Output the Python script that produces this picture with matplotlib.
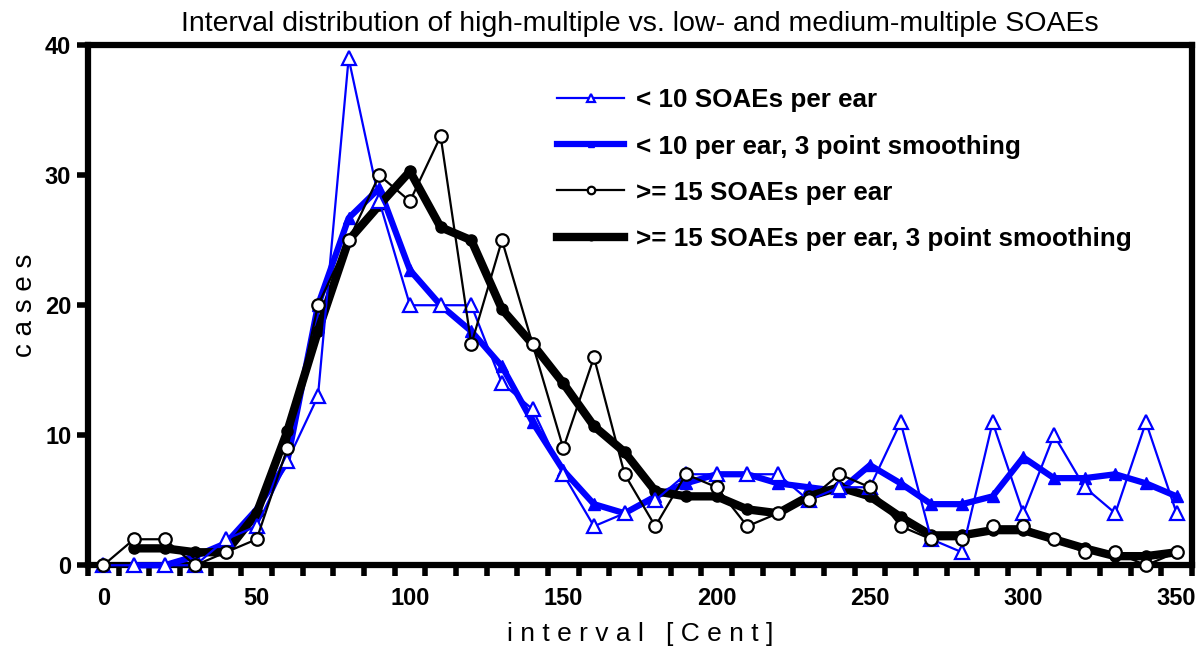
import numpy as np
import matplotlib.pyplot as plt

plt.rcParams['font.family'] = ['Liberation Sans', 'DejaVu Sans']

# interval in Cent
x = np.arange(0, 360, 10)
x_smooth = x[1:]

# < 10 SOAEs per ear
low = [0, 0, 0, 0, 2, 3, 8, 13, 39, 28, 20, 20, 20, 14, 12, 7, 3, 4,
       5, 7, 7, 7, 7, 5, 6, 6, 11, 2, 1, 11, 4, 10, 6, 4, 11, 4]
# < 10 per ear, 3 point smoothing (from 10 Cent on)
low_smooth = [0, 0, 0.7, 1.7, 4.3, 8, 20, 26.7, 29, 22.7, 20, 18, 15.3, 11,
              7.3, 4.7, 4, 5.3, 6.3, 7, 7, 6.3, 6, 5.7, 7.7, 6.3, 4.7, 4.7,
              5.3, 8.3, 6.7, 6.7, 7, 6.3, 5.3]
# >= 15 SOAEs per ear
high = [0, 2, 2, 0, 1, 2, 9, 20, 25, 30, 28, 33, 17, 25, 17, 9, 16, 7,
        3, 7, 6, 3, 4, 5, 7, 6, 3, 2, 2, 3, 3, 2, 1, 1, 0, 1]
# >= 15 per ear, 3 point smoothing
high_smooth = [1.3, 1.3, 1, 1, 4, 10.3, 18, 25, 27.7, 30.3, 26, 25, 19.7, 17,
               14, 10.7, 8.7, 5.7, 5.3, 5.3, 4.3, 4, 5.3, 6, 5.3, 3.7, 2.3,
               2.3, 2.7, 2.7, 2, 1.3, 0.7, 0.7, 1]

blue = '#0000ff'

fig = plt.figure(figsize=(12, 6.55), dpi=100)
ax = fig.add_axes([0.0733, 0.137, 0.92, 0.794])

l2, = ax.plot(x_smooth, low_smooth, color=blue, lw=4.5, marker='^', ms=8,
              clip_on=False, zorder=3)
l4, = ax.plot(x_smooth, high_smooth, color='black', lw=6, marker='o', ms=8,
              clip_on=False, zorder=4)
l1, = ax.plot(x, low, color=blue, lw=1.6, marker='^', ms=10, mfc='white',
              mec=blue, mew=1.6, clip_on=False, zorder=5)
l3, = ax.plot(x, high, color='black', lw=1.6, marker='o', ms=9, mfc='white',
              mec='black', mew=1.6, clip_on=False, zorder=6)

ax.set_xlim(-5, 355)
ax.set_ylim(0, 40)
# labels at 0, 50, ...; ticks at the bin edges
ax.set_xticks(np.arange(0, 351, 50))
ax.set_xticks(np.arange(-5, 356, 10), minor=True)
ax.set_yticks(np.arange(0, 41, 10))

for s in ax.spines.values():
    s.set_linewidth(4.5)
ax.tick_params(axis='x', which='major', length=0, pad=16, labelsize=17)
ax.tick_params(axis='x', which='minor', direction='out', width=4, length=8)
ax.tick_params(axis='y', which='major', direction='out', width=4, length=8,
               pad=4, labelsize=17)
for lab in ax.get_xticklabels() + ax.get_yticklabels():
    lab.set_fontweight('bold')

ax.set_xlabel('i n t e r v a l   [ C e n t ]', fontsize=19, labelpad=8)
ax.set_ylabel('c a s e s', fontsize=20, labelpad=5)
ax.set_title('Interval distribution of high-multiple vs. low- and medium-multiple SOAEs',
             fontsize=20.5, pad=10)

leg = ax.legend([l1, l2, l3, l4],
                ['< 10 SOAEs per ear', '< 10 per ear, 3 point smoothing',
                 '>= 15 SOAEs per ear', '>= 15 SOAEs per ear, 3 point smoothing'],
                loc='upper left', bbox_to_anchor=(0.464, 0.865),
                bbox_transform=fig.transFigure, frameon=False,
                prop={'weight': 'bold', 'size': 18.7}, handlelength=2.6,
                handletextpad=0.45, labelspacing=0.85, markerscale=0.6,
                borderpad=0, borderaxespad=0)

fig.savefig('out.png', dpi=100)
